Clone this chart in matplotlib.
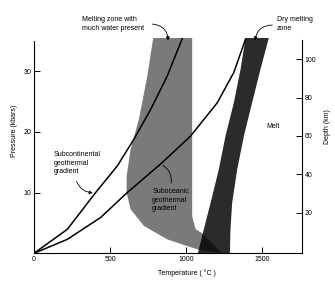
import matplotlib
matplotlib.use('Agg')
import matplotlib.pyplot as plt
from matplotlib.patches import Polygon

plt.rcParams['font.family'] = ['Liberation Sans', 'DejaVu Sans']

# wet melting zone (gray area), temperature (C) / pressure (kbar)
wet_T = [784, 1040, 1040, 1062, 1106, 1237, 1095, 1007, 876, 723, 635, 609, 609, 635, 690, 745]
wet_P = [35.5, 35.5, 6.1, 4.0, 3.3, 0, 0.5, 1.2, 2.3, 4.5, 7.25, 10.0, 12.7, 17.1, 22.1, 29.2]

# dry melting zone (dark band)
dry_left_T = [1391, 1358, 1314, 1259, 1215, 1161, 1117, 1084, 1078]
dry_left_P = [35.5, 30.3, 24.8, 19.3, 13.8, 8.3, 4.0, 0.7, 0]
dry_right_T = [1288, 1292, 1303, 1336, 1380, 1434, 1489, 1544]
dry_right_P = [0, 4.0, 8.3, 13.8, 19.3, 24.8, 30.3, 35.5]

# geotherms
cont_T = [0, 219, 405, 548, 657, 767, 876, 964, 975]
cont_P = [0, 3.95, 10.0, 14.4, 18.8, 23.7, 29.2, 34.7, 35.4]
ocean_T = [0, 219, 438, 613, 832, 1029, 1205, 1314, 1391]
ocean_P = [0, 2.3, 5.9, 10.0, 14.7, 19.3, 24.8, 29.8, 35.3]

x_ticks = [0, 500, 1000, 1500]
p_ticks = [10, 20, 30]
depth_ticks = [20, 40, 60, 80, 100]

fig = plt.figure(figsize=(3.35, 3.06), dpi=100)
ax = fig.add_axes([0.1015, 0.1722, 0.799, 0.7042])
ax.set_xlim(0, 1760)
ax.set_ylim(0, 35.5)

ax.add_patch(Polygon(list(zip(wet_T, wet_P)), closed=True, facecolor='#7a7a7a', edgecolor='none'))
dry = list(zip(dry_left_T, dry_left_P)) + list(zip(dry_right_T, dry_right_P))
ax.add_patch(Polygon(dry, closed=True, facecolor='black', alpha=0.83, edgecolor='none'))

ax.plot(cont_T, cont_P, color='black', lw=1.1, solid_joinstyle='round')
ax.plot(ocean_T, ocean_P, color='black', lw=1.1, solid_joinstyle='round')

# spines / ticks
ax.spines['top'].set_visible(False)
ax.spines['right'].set_visible(False)
ax.spines['left'].set_bounds(0, 35)
for s in ['left', 'bottom']:
    ax.spines[s].set_linewidth(0.8)
ax.set_xticks(x_ticks)
ax.set_yticks(p_ticks)
ax.tick_params(direction='in', length=4, width=0.7, labelsize=5, pad=2)

ax2 = ax.twinx()
ax2.set_ylim(-1.2, 111.2)
ax2.set_yticks(depth_ticks)
for s in ['top', 'left', 'bottom']:
    ax2.spines[s].set_visible(False)
ax2.spines['right'].set_bounds(-1.2, 110.1)
ax2.spines['right'].set_linewidth(0.8)
ax2.tick_params(direction='in', length=4, width=0.7, labelsize=5, pad=2)

ax.set_ylabel('Pressure (kbars)', fontsize=5)
ax.yaxis.set_label_coords(-0.058, 0.57)
ax2.set_ylabel('Depth (km)', fontsize=5)
ax2.yaxis.set_label_coords(1.085, 0.59)
ax.set_xlabel('Temperature ( °C )', fontsize=5)
ax.xaxis.set_label_coords(0.571, -0.073)

fs = 5
ax.text(313, 37.75, 'Melting zone with\nmuch water present', fontsize=fs, va='center', ha='left', linespacing=1.3)
ax.annotate('', xy=(882, 34.6), xytext=(760, 37.8), annotation_clip=False,
            arrowprops=dict(arrowstyle='-|>', lw=0.6, color='black', mutation_scale=5,
                            connectionstyle='arc3,rad=-0.5'))
ax.text(1595, 37.8, 'Dry melting\nzone', fontsize=fs, va='center', ha='left', linespacing=1.3)
ax.annotate('', xy=(1452, 34.6), xytext=(1585, 37.6), annotation_clip=False,
            arrowprops=dict(arrowstyle='-|>', lw=0.6, color='black', mutation_scale=5,
                            connectionstyle='arc3,rad=0.5'))
ax.text(1529, 20.9, 'Melt', fontsize=fs, va='center', ha='left')
ax.text(131, 14.8, 'Subcontinental\ngeothermal\ngradient', fontsize=fs, va='center', ha='left', linespacing=1.3)
ax.annotate('', xy=(405, 10.0), xytext=(274, 12.3),
            arrowprops=dict(arrowstyle='-|>', lw=0.6, color='black', mutation_scale=5,
                            connectionstyle='arc3,rad=0.4'))
ax.text(777, 8.7, 'Suboceanic\ngeothermal\ngradient', fontsize=fs, va='center', ha='left', linespacing=1.3)
ax.annotate('', xy=(832, 14.7), xytext=(898, 11.1),
            arrowprops=dict(arrowstyle='-', lw=0.6, color='black',
                            connectionstyle='arc3,rad=0.4'))

fig.savefig('out.png', dpi=100)
